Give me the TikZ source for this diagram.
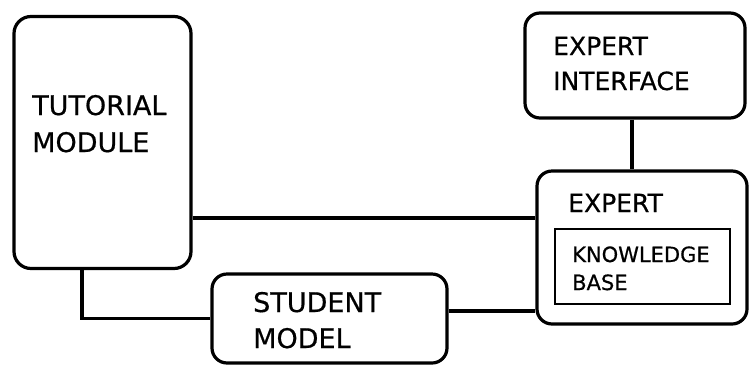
\documentclass[tikz,border=0pt]{standalone}
\usepackage{fontspec}
\setmainfont[FakeBold=0.6]{DejaVu Sans}
\begin{document}
\begin{tikzpicture}[x=1pt,y=-1pt,
  box/.style={draw,line width=3.2pt,rounded corners=15pt,inner sep=0pt},
  kbox/.style={draw,line width=2.6pt,inner sep=0pt},
  link/.style={line width=3.2pt},
  lbl/.style={anchor=base west,inner sep=0pt,align=left}]
\useasboundingbox (0,0) rectangle (749,365);
% boxes
\node[box,rounded corners=17pt,minimum width=177pt,minimum height=252pt] (tut) at (102.5,142.5) {};
\node[box,minimum width=220pt,minimum height=105pt] (ei) at (635,65.5) {};
\node[box,minimum width=210pt,minimum height=153pt] (ex) at (642,247.5) {};
\node[kbox,minimum width=175pt,minimum height=75pt] (kb) at (642.5,266.5) {};
\node[box,minimum width=235pt,minimum height=89pt] (stu) at (329.5,318.5) {};
% labels (base anchor sits on the last line)
\node[lbl,font=\fontsize{27}{37}\selectfont] (tuttxt) at (32,152) {TUTORIAL\\MODULE};
\node[lbl,font=\fontsize{25}{35}\selectfont] (eitxt) at (553,90) {EXPERT\\INTERFACE};
\node[lbl,font=\fontsize{25}{30}\selectfont] (extxt) at (568,212) {EXPERT};
\node[lbl,font=\fontsize{21}{28}\selectfont] (kbtxt) at (572,290) {KNOWLEDGE\\BASE};
\node[lbl,font=\fontsize{27}{36}\selectfont] (stutxt) at (253,348) {STUDENT\\MODEL};
% connector rows and columns
\coordinate (r1) at (0,218);
\coordinate (r2) at (0,311);
\coordinate (c1) at (82,0);
\coordinate (c2) at (632,0);
\draw[link] (tut.east |- r1) -- (ex.west |- r1);
\draw[link] (tut.south -| c1) |- (stu.west);
\draw[link] (stu.east |- r2) -- (ex.west |- r2);
\draw[link] (ei.south -| c2) -- (ex.north -| c2);
\end{tikzpicture}
\end{document}
